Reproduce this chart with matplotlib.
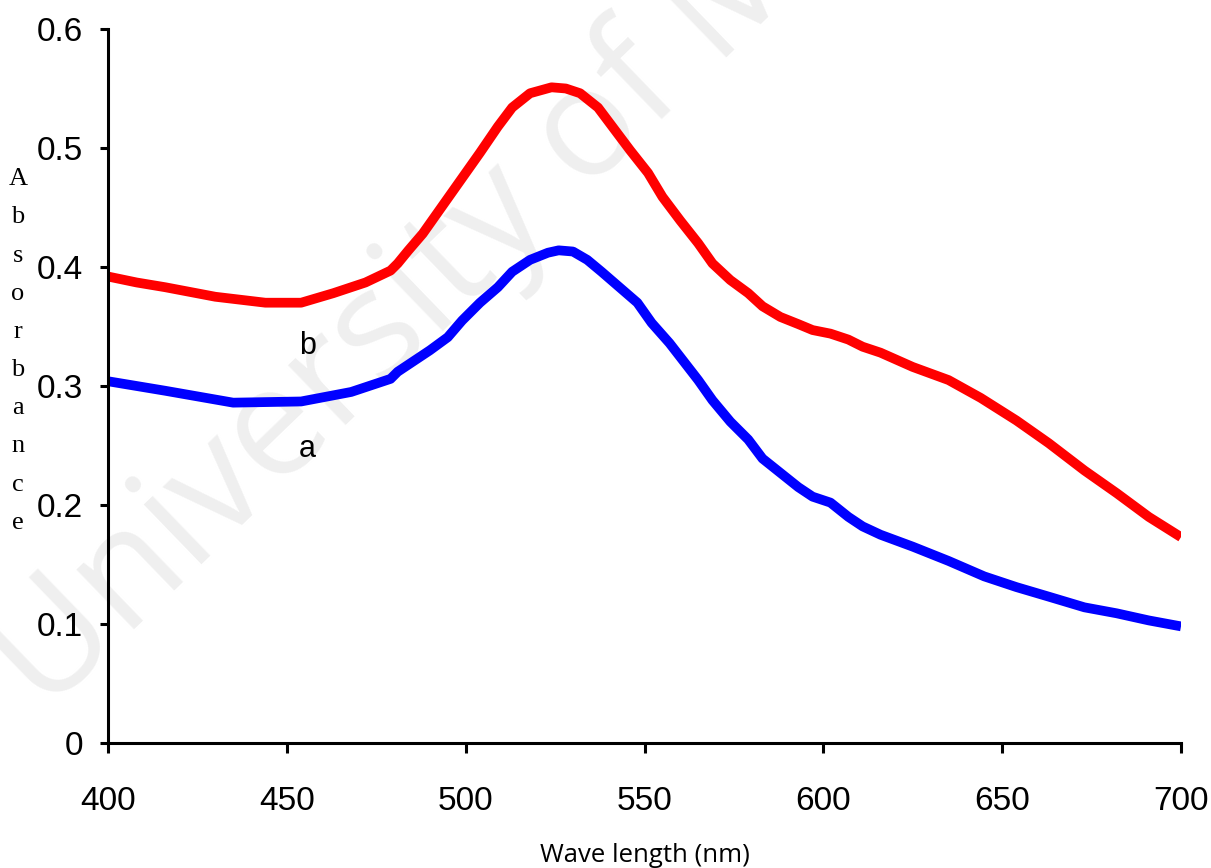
# UV-vis absorbance spectra, samples a and b

import numpy as np
import matplotlib
matplotlib.use('Agg')
import matplotlib.pyplot as plt

# wavelength (nm) and absorbance
wl_b = [400, 408, 416, 430, 444, 454, 463, 472, 479, 481, 484, 488, 492,
        496, 500, 504, 509, 513, 518, 524, 528, 532, 537, 541, 546, 551,
        555, 560, 565, 569, 574, 579, 583, 588, 593, 597, 602, 607, 611,
        616, 625, 635, 644, 654, 663, 673, 682, 691, 700]
abs_b = [0.392, 0.387, 0.383, 0.375, 0.370, 0.370, 0.378, 0.387, 0.397,
         0.403, 0.414, 0.428, 0.445, 0.462, 0.479, 0.496, 0.518, 0.534,
         0.546, 0.551, 0.550, 0.546, 0.534, 0.518, 0.498, 0.479, 0.459,
         0.439, 0.420, 0.403, 0.389, 0.378, 0.367, 0.358, 0.352, 0.347,
         0.344, 0.339, 0.333, 0.328, 0.316, 0.305, 0.290, 0.271, 0.252,
         0.229, 0.210, 0.190, 0.173]

wl_a = [400, 408, 416, 435, 454, 468, 472, 479, 481, 485, 490, 495, 499,
        504, 509, 513, 518, 523, 526, 530, 534, 538, 543, 548, 552, 557,
        565, 569, 574, 579, 583, 588, 593, 597, 602, 607, 611, 616, 625,
        635, 645, 654, 663, 673, 682, 691, 700]
abs_a = [0.304, 0.300, 0.296, 0.286, 0.287, 0.295, 0.299, 0.306, 0.312,
         0.320, 0.330, 0.341, 0.355, 0.370, 0.383, 0.396, 0.406, 0.412,
         0.414, 0.413, 0.406, 0.396, 0.383, 0.370, 0.353, 0.336, 0.305,
         0.288, 0.270, 0.255, 0.239, 0.227, 0.215, 0.207, 0.202, 0.190,
         0.182, 0.175, 0.165, 0.153, 0.140, 0.131, 0.123, 0.114, 0.109,
         0.103, 0.098]

xticks = [400, 450, 500, 550, 600, 650, 700]
yticks = [0, 0.1, 0.2, 0.3, 0.4, 0.5, 0.6]
ytick_labels = ['0', '0.1', '0.2', '0.3', '0.4', '0.5', '0.6']

num_font = ['Liberation Sans', 'DejaVu Sans']

fig = plt.figure(figsize=(12.11, 8.68), dpi=100)

# faint watermark behind everything
fig.text(45/1211, 1 - 715/868, 'University of Malaya', fontsize=110,
         family=['Open Sans', 'DejaVu Sans'], color='#efefef',
         rotation=44, rotation_mode='anchor', ha='left', va='baseline',
         zorder=-5)

ax = fig.add_axes([108/1211, 1 - 743/868, 1073/1211, 714/868])
ax.patch.set_alpha(0)

ax.plot(wl_b, abs_b, color='#ff0000', lw=7, solid_capstyle='butt',
        solid_joinstyle='round')
ax.plot(wl_a, abs_a, color='#0000ff', lw=7, solid_capstyle='butt',
        solid_joinstyle='round')

ax.text(455.9, 0.334, 'b', fontsize=22, family=num_font, ha='center', va='center')
ax.text(455.6, 0.247, 'a', fontsize=22, family=num_font, ha='center', va='center')

ax.set_xlim(400, 700)
ax.set_ylim(0, 0.6)
ax.set_xticks(xticks)
ax.set_yticks(yticks)
ax.set_yticklabels(ytick_labels)

for s in ['top', 'right']:
    ax.spines[s].set_visible(False)
for s in ['left', 'bottom']:
    ax.spines[s].set_linewidth(2.2)

ax.tick_params(axis='both', direction='out', width=2.2, labelsize=24)
ax.tick_params(axis='y', length=6, pad=12)
ax.tick_params(axis='x', length=7, pad=24)
for lab in ax.get_xticklabels() + ax.get_yticklabels():
    lab.set_family(num_font)

ax.set_xlabel('Wave length (nm)', fontsize=18.5,
              family=['Open Sans', 'DejaVu Sans'], labelpad=19)
ax.set_ylabel('\n'.join('Absorbance'), rotation=0, fontsize=19,
              family=['Liberation Serif', 'DejaVu Serif'], linespacing=1.95,
              va='center', ha='center')
ax.yaxis.set_label_coords(-0.084, 0.549)

plt.savefig('out.png', dpi=100)
